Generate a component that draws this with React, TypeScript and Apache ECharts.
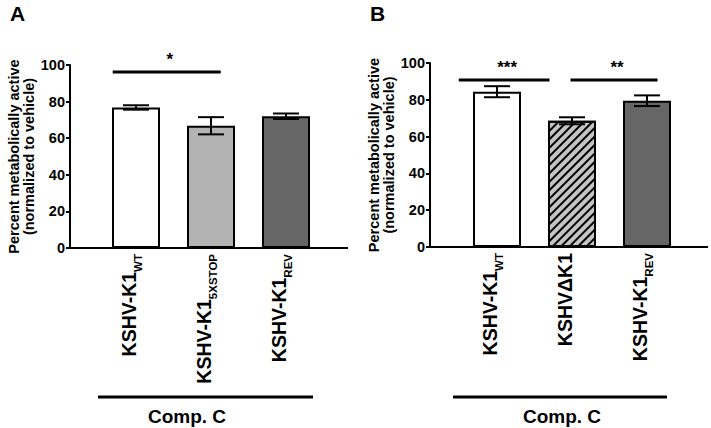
import React, { useEffect, useRef } from "react";
import * as echarts from "echarts";

const FONT = "'Liberation Sans', Arial, Helvetica, sans-serif";

// ---------- data ----------
const labelMainA = ["KSHV-K1", "KSHV-K1", "KSHV-K1"];
const labelSubA = ["WT", "5XSTOP", "REV"];
const meanA = [76.8, 66.8, 72.0];
const semA = [1.2, 4.7, 1.5];

const labelMainB = ["KSHV-K1", "KSHVΔK1", "KSHV-K1"];
const labelSubB = ["WT", "", "REV"];
const meanB = [84.4, 68.6, 79.5];
const semB = [3.0, 1.9, 2.9];

const yTicks = [0, 20, 40, 60, 80, 100];

// significance brackets: [fromIndex, toIndex, yValue]
const sigA = [[0, 1, 96.2]];
const sigTextA = ["*"];
const sigB = [
  [0, 1, 90.8],
  [1, 2, 90.8],
];
const sigTextB = ["***", "**"];

const groupLabel = "Comp. C";
const panelLabels = ["A", "B"];
const yName = ["Percent metabolically active", "(normalized to vehicle)"];

// ---------- layout / style ----------
const panels = [
  {
    main: labelMainA,
    sub: labelSubA,
    mean: meanA,
    sem: semA,
    sig: sigA,
    sigText: sigTextA,
    sigOffsets: [[-0.31, 0.13]],
    grid: { left: 98.5, top: 65, width: 225, height: 183 },
    yOffset: 28.5,
    axisEnd: 348,
    groupLine: [98, 313],
    groupTextX: 187,
    panelLabelPos: [17.5, 13],
    fills: [
      { color: "#ffffff" },
      { color: "#b3b3b3" },
      { color: "#666666" },
    ],
  },
  {
    main: labelMainB,
    sub: labelSubB,
    mean: meanB,
    sem: semB,
    sig: sigB,
    sigText: sigTextB,
    sigOffsets: [
      [-0.51, -0.3],
      [-0.02, 0.14],
    ],
    grid: { left: 459.5, top: 63, width: 225, height: 184 },
    yOffset: 29.5,
    axisEnd: 708,
    groupLine: [453, 667],
    groupTextX: 562,
    panelLabelPos: [377.5, 13],
    fills: [
      { color: "#ffffff" },
      {
        color: "#c4c4c4",
        decal: {
          symbol: "rect",
          symbolSize: 1,
          color: "#000000",
          dashArrayX: [1, 0],
          dashArrayY: [1.6, 3.6],
          rotation: -Math.PI / 4,
        },
      },
      { color: "#666666" },
    ],
  },
];

function buildOption() {
  const grid: any[] = [];
  const xAxis: any[] = [];
  const yAxis: any[] = [];
  const series: any[] = [];
  const graphic: any[] = [];

  panels.forEach((p, i) => {
    grid.push({ ...p.grid, containLabel: false });
    xAxis.push({
      type: "category",
      gridIndex: i,
      data: p.main.map((m, k) => m + p.sub[k]),
      axisLine: { show: true, lineStyle: { color: "#000", width: 2 } },
      axisTick: { show: false },
      axisLabel: {
        rotate: 90,
        margin: 6,
        interval: 0,
        fontWeight: "bold",
        fontSize: 19.5,
        color: "#000",
        padding: [0, 0, 14, 0],
        formatter: (_v: string, k: number) =>
          `{m|${p.main[k]}}` + (p.sub[k] ? `{s|${p.sub[k]}}` : ""),
        rich: {
          m: {
            fontSize: 19.5,
            fontWeight: "bold",
            fontFamily: FONT,
            color: "#000",
            lineHeight: 30,
          },
          s: {
            fontSize: 11.5,
            fontWeight: "bold",
            fontFamily: FONT,
            color: "#000",
            lineHeight: 11,
            verticalAlign: "bottom",
          },
        },
      },
    });
    yAxis.push({
      type: "value",
      gridIndex: i,
      min: yTicks[0],
      max: yTicks[yTicks.length - 1],
      interval: yTicks[1] - yTicks[0],
      offset: p.yOffset,
      splitLine: { show: false },
      axisLine: { show: true, lineStyle: { color: "#000", width: 2 } },
      axisTick: {
        show: true,
        inside: false,
        length: 4,
        lineStyle: { color: "#000", width: 2 },
      },
      axisLabel: {
        margin: 5,
        fontSize: 14.5,
        fontWeight: "bold",
        fontFamily: FONT,
        color: "#000",
      },
      name: yName.join("\n"),
      nameLocation: "middle",
      nameGap: 34,
      nameTextStyle: {
        fontSize: 14.5,
        fontWeight: "bold",
        fontFamily: FONT,
        color: "#000",
        lineHeight: 15,
      },
    });

    // bars
    series.push({
      type: "bar",
      xAxisIndex: i,
      yAxisIndex: i,
      barWidth: 48,
      itemStyle: { borderColor: "#000", borderWidth: 2 },
      data: p.mean.map((v, k) => ({ value: v, itemStyle: p.fills[k] })),
      z: 2,
    });

    // error bars
    series.push({
      type: "custom",
      xAxisIndex: i,
      yAxisIndex: i,
      z: 5,
      encode: { x: 0, y: 1 },
      data: p.mean.map((v, k) => [k, v, p.sem[k]]),
      renderItem: (_params: any, api: any) => {
        const x = api.value(0);
        const m = api.value(1);
        const e = api.value(2);
        const top = api.coord([x, m + e]);
        const bot = api.coord([x, m - e]);
        const half = 13;
        const st = { stroke: "#000", lineWidth: 2 };
        return {
          type: "group",
          children: [
            { type: "line", shape: { x1: top[0], y1: top[1], x2: bot[0], y2: bot[1] }, style: st },
            { type: "line", shape: { x1: top[0] - half, y1: top[1], x2: top[0] + half, y2: top[1] }, style: st },
            { type: "line", shape: { x1: bot[0] - half, y1: bot[1], x2: bot[0] + half, y2: bot[1] }, style: st },
          ],
        };
      },
    });

    // significance lines
    series.push({
      type: "custom",
      xAxisIndex: i,
      yAxisIndex: i,
      z: 6,
      clip: false,
      encode: { x: 0, y: 1 },
      data: p.sig.map((s) => [s[0], s[2], s[1]]),
      renderItem: (params: any, api: any) => {
        const idx = params.dataIndex;
        const from = api.value(0);
        const y = api.value(1);
        const to = api.value(2);
        const band = api.size([1, 0])[0];
        const p1 = api.coord([from, y]);
        const p2 = api.coord([to, y]);
        const off = p.sigOffsets[idx];
        const x1 = p1[0] + off[0] * band;
        const x2 = p2[0] + off[1] * band;
        return {
          type: "group",
          children: [
            {
              type: "line",
              shape: { x1, y1: p1[1], x2, y2: p1[1] },
              style: { stroke: "#000", lineWidth: 3 },
            },
            {
              type: "text",
              x: (x1 + x2) / 2 + 3,
              y: p1[1] - 4,
              style: {
                text: p.sigText[idx],
                fontSize: 17,
                fontWeight: "bold",
                fontFamily: FONT,
                fill: "#000",
                align: "center",
                verticalAlign: "bottom",
              },
            },
          ],
        };
      },
    });

    const zeroY = p.grid.top + p.grid.height;
    graphic.push({
      type: "line",
      shape: { x1: p.grid.left - p.yOffset, y1: zeroY, x2: p.axisEnd, y2: zeroY },
      style: { stroke: "#000", lineWidth: 2 },
      z: 10,
    });
    graphic.push({
      type: "line",
      shape: { x1: p.groupLine[0], y1: 397, x2: p.groupLine[1], y2: 397 },
      style: { stroke: "#000", lineWidth: 3 },
    });
    graphic.push({
      type: "text",
      x: p.groupTextX,
      y: 416,
      style: {
        text: groupLabel,
        fontSize: 19,
        fontWeight: "bold",
        fontFamily: FONT,
        fill: "#000",
        align: "center",
        verticalAlign: "middle",
      },
    });
    graphic.push({
      type: "text",
      x: p.panelLabelPos[0],
      y: p.panelLabelPos[1],
      style: {
        text: panelLabels[i],
        fontSize: 21,
        fontWeight: "bold",
        fontFamily: FONT,
        fill: "#000",
        align: "center",
        verticalAlign: "middle",
      },
    });
  });

  return {
    animation: false,
    backgroundColor: "#ffffff",
    textStyle: { fontFamily: FONT },
    grid,
    xAxis,
    yAxis,
    series,
    graphic,
  };
}

export default function App() {
  const ref = useRef<HTMLDivElement>(null);
  useEffect(() => {
    if (!ref.current) return;
    const chart = echarts.init(ref.current, undefined, { renderer: "svg" });
    chart.setOption(buildOption() as any);
    return () => chart.dispose();
  }, []);
  return (
    <div
      ref={ref}
      style={{ position: "fixed", left: 0, top: 0, width: 711, height: 428, background: "#fff" }}
    />
  );
}
